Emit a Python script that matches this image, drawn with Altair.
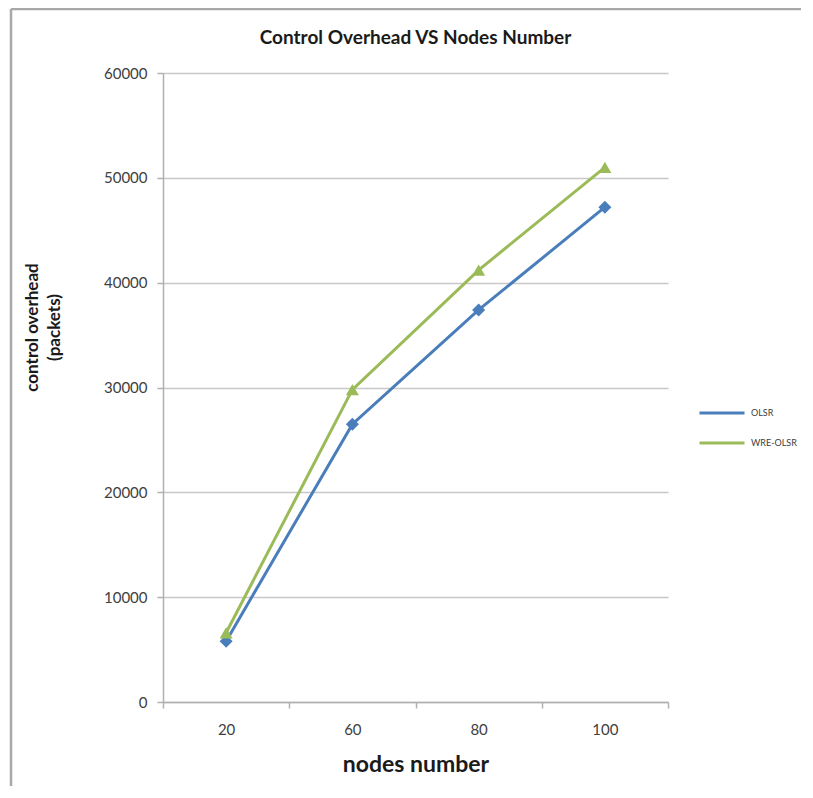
import altair as alt
import pandas as pd

nodes = ["20", "60", "80", "100"]
olsr = [5800, 26500, 37400, 47200]
wre_olsr = [6600, 29800, 41200, 51000]
series_names = ["OLSR", "WRE-OLSR"]
colors = ["#4A7EBB", "#9BBB59"]
shapes = ["diamond", "triangle-up"]
y_ticks = [0, 10000, 20000, 30000, 40000, 50000, 60000]

rows = []
for s, vals in zip(series_names, [olsr, wre_olsr]):
    for n, v in zip(nodes, vals):
        rows.append({"nodes": n, "overhead": v, "series": s})
df = pd.DataFrame(rows)

FONT = "Lato"

x_enc = alt.X(
    "nodes:O",
    sort=nodes,
    scale=alt.Scale(type="band", paddingInner=0, paddingOuter=0),
    axis=alt.Axis(
        title="nodes number",
        labelAngle=0,
        tickBand="extent",
        grid=False,
        domainColor="#b0b0b0",
        domainWidth=1.5,
        tickColor="#b0b0b0",
        tickWidth=1.5,
        tickSize=6,
        labelFontSize=15,
        labelColor="#404040",
        labelPadding=14,
        titleFontSize=23,
        titleFontWeight="bold",
        titleColor="#1a1a1a",
        titlePadding=16,
    ),
)
y_enc = alt.Y(
    "overhead:Q",
    scale=alt.Scale(domain=[0, 60000], nice=False),
    axis=alt.Axis(
        values=y_ticks,
        format="d",
        title=["control overhead", "(packets)"],
        grid=True,
        gridColor="#c8c8c8",
        gridWidth=1.5,
        domainColor="#b0b0b0",
        domainWidth=1.5,
        tickColor="#b0b0b0",
        tickWidth=1.5,
        tickSize=6,
        labelFontSize=15,
        labelColor="#404040",
        labelPadding=10,
        titleFontSize=17,
        titleFontWeight="bold",
        titleColor="#1a1a1a",
        titlePadding=40,
        titleLineHeight=22,
        titleY=254,
    ),
)
color_enc = alt.Color(
    "series:N",
    scale=alt.Scale(domain=series_names, range=colors),
    legend=alt.Legend(
        title=None,
        orient="none",
        legendX=535,
        legendY=316,
        symbolType="stroke",
        symbolStrokeWidth=3,
        symbolSize=2025,
        labelFontSize=9,
        labelColor="#404040",
        rowPadding=-13,
        labelOffset=5,
    ),
)

lines = alt.Chart(df).mark_line(strokeWidth=3).encode(x=x_enc, y=y_enc, color=color_enc)

point_layers = []
for s, c, sh in zip(series_names, colors, shapes):
    point_layers.append(
        alt.Chart(df)
        .transform_filter(alt.datum.series == s)
        .mark_point(filled=True, size=170, opacity=1, shape=sh, color=c)
        .encode(x=alt.X("nodes:O", sort=nodes), y="overhead:Q")
    )

frame_left = alt.Chart(pd.DataFrame({"a": [0]})).mark_rule(color="#a8a8a8", strokeWidth=2.5).encode(
    x=alt.value(-152), y=alt.value(-64), y2=alt.value(720)
)
frame_top = alt.Chart(pd.DataFrame({"a": [0]})).mark_rule(color="#a8a8a8", strokeWidth=2.5).encode(
    x=alt.value(-152), x2=alt.value(640), y=alt.value(-64)
)

chart = (
    alt.layer(frame_left, frame_top, lines, *point_layers)
    .properties(
        width=505,
        height=629,
        title=alt.TitleParams(
            "Control Overhead VS Nodes Number",
            fontSize=19,
            fontWeight="bold",
            color="#1a1a1a",
            font=FONT,
            offset=-40,
            frame="group",
        ),
        autosize=alt.AutoSizeParams(type="none"),
        padding={"left": 155, "top": 65, "right": 133, "bottom": 84},
    )
    .configure(font=FONT, background="white")
    .configure_axis(labelFont=FONT, titleFont=FONT)
    .configure_legend(labelFont=FONT)
    .configure_view(stroke=None)
)

chart.save("out.html", embed_options={"renderer": "svg", "actions": False})
